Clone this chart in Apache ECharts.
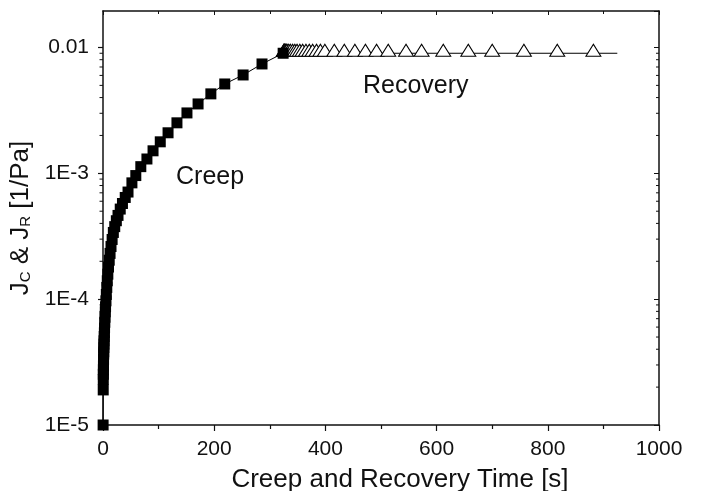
<!DOCTYPE html>
<html>
<head>
<meta charset="utf-8">
<style>
  html, body { margin: 0; padding: 0; background: #fff; }
  #chart { width: 704px; height: 491px; }
</style>
<script src="https://cdn.jsdelivr.net/npm/echarts@6.0.0/dist/echarts.min.js"></script>
</head>
<body>
<div id="chart"></div>
<script>
// creep phase: time [s] and compliance J_C [1/Pa]
var creepTime = [0.2, 0.4, 0.5, 0.6, 0.7, 0.8, 0.9, 1.0, 1.2, 1.3, 1.5, 1.7, 1.9, 2.2, 2.5, 2.8, 3.2, 3.6,
    4.1, 4.6, 5.3, 6.0, 6.8, 7.7, 8.7, 9.9, 11.2, 12.7, 14.4, 16.4, 18.6, 21.1, 24, 27, 31, 35, 40, 45,
    52, 59, 68, 79, 90, 103, 117, 133, 151, 171, 194, 219, 252, 286, 324];
var creepJ = [1.0e-5, 1.9e-5, 2.3e-5, 2.53e-5, 2.75e-5, 2.95e-5, 3.14e-5, 3.32e-5, 3.66e-5, 3.82e-5,
    4.12e-5, 4.40e-5, 4.67e-5, 5.05e-5, 5.4e-5, 5.9e-5, 6.55e-5, 7.18e-5, 7.94e-5, 8.69e-5, 9.7e-5,
    1.09e-4, 1.24e-4, 1.4e-4, 1.58e-4, 1.8e-4, 2.04e-4, 2.31e-4, 2.62e-4, 2.98e-4, 3.39e-4, 3.77e-4,
    4.2e-4, 4.63e-4, 5.2e-4, 5.76e-4, 6.43e-4, 7.1e-4, 8.4e-4, 9.6e-4, 1.13e-3, 1.3e-3, 1.51e-3,
    1.78e-3, 2.1e-3, 2.52e-3, 3.02e-3, 3.56e-3, 4.28e-3, 5.13e-3, 6.05e-3, 7.4e-3, 9.0e-3];

// recovery phase: time [s] and compliance J_R [1/Pa]
var recoveryTime = [325.2, 325.5, 326, 326.5, 327.5, 328.5, 330, 331, 334, 337, 341, 345, 349, 354,
    359, 365, 371, 377, 384, 391, 399, 416, 434, 453, 472, 492, 513, 545, 573, 612, 657, 700, 757, 817, 882];
var recoveryJ = [0.009, 0.009, 0.009, 0.009, 0.009, 0.009, 0.009, 0.009, 0.009, 0.009, 0.009, 0.009,
    0.009, 0.009, 0.009, 0.009, 0.009, 0.009, 0.009, 0.009, 0.009, 0.009, 0.009, 0.009, 0.009, 0.009,
    0.009, 0.009, 0.009, 0.009, 0.009, 0.009, 0.009, 0.009, 0.009];
// the recovery line runs on past the last marker
var recoveryLineEnd = [925, 0.009];

var xTicks = [0, 200, 400, 600, 800, 1000];
var yTickLabels = ['1E-5', '1E-4', '1E-3', '0.01'];

var FONT = "'Liberation Sans', Arial, sans-serif";
var INK = '#111';

var creepData = creepTime.map(function (t, i) { return [t, creepJ[i]]; });
var recoveryData = recoveryTime.map(function (t, i) { return [t, recoveryJ[i]]; });
recoveryData.push({ value: recoveryLineEnd, symbol: 'none' });

// minor ticks of the log axis, at 2..9 of each decade
var minorVals = [];
for (var e = -5; e <= -2; e++) {
    for (var m = 2; m <= 9; m++) {
        var v = m * Math.pow(10, e);
        if (v < 0.0195) minorVals.push([0, v]);
    }
}

function logLabel(v) {
    var p = Math.log10(v);
    var r = Math.round(p);
    if (Math.abs(p - r) > 0.01) return '';
    return yTickLabels[r + 5] || '';
}

var myChart = echarts.init(document.getElementById('chart'));
var option = {
    backgroundColor: '#fff',
    animation: false,
    grid: { left: 103, right: 45, top: 11, bottom: 66, outerBoundsMode: 'none', containLabel: false },
    xAxis: [{
        type: 'value',
        position: 'bottom',
        min: xTicks[0],
        max: xTicks[xTicks.length - 1],
        interval: 200,
        name: 'Creep and Recovery Time [s]',
        nameLocation: 'middle',
        nameGap: 42,
        nameTextStyle: { fontFamily: FONT, fontSize: 26, color: INK, padding: [0, 0, 0, 38] },
        axisLine: { lineStyle: { color: INK, width: 1.5 } },
        axisTick: { inside: false, length: 6, lineStyle: { color: INK, width: 1.2 } },
        minorTick: { show: true, splitNumber: 2, length: 4, lineStyle: { color: INK, width: 1.2 } },
        axisLabel: {
            fontFamily: FONT, fontSize: 21, color: INK, margin: 14,
            formatter: function (v) { return String(v); }
        },
        splitLine: { show: false }
    }, {
        type: 'value',
        position: 'top',
        min: xTicks[0],
        max: xTicks[xTicks.length - 1],
        interval: 200,
        axisLine: { onZero: false, lineStyle: { color: INK, width: 1.5 } },
        axisTick: { inside: true, length: 4, lineStyle: { color: INK } },
        minorTick: { show: true, splitNumber: 2, length: 3, lineStyle: { color: INK } },
        axisLabel: { show: false },
        splitLine: { show: false }
    }],
    yAxis: [{
        type: 'log',
        logBase: 10,
        min: 1e-5,
        max: 0.0195,
        name: '{m|J}{s|C}{m| & J}{s|R}{m| [1/Pa]}',
        nameLocation: 'middle',
        nameGap: 58,
        nameTextStyle: {
            fontFamily: FONT, color: INK,
            rich: {
                m: { fontFamily: FONT, fontSize: 26, color: INK, verticalAlign: 'bottom', lineHeight: 30 },
                s: { fontFamily: FONT, fontSize: 15, color: INK, verticalAlign: 'bottom', lineHeight: 12 }
            }
        },
        axisLine: { lineStyle: { color: INK, width: 1.5 } },
        axisTick: { inside: false, length: 5, lineStyle: { color: INK, width: 1.2 } },
        axisLabel: { fontFamily: FONT, fontSize: 21, color: INK, margin: 14, formatter: logLabel, showMaxLabel: false },
        splitLine: { show: false }
    }, {
        type: 'log',
        logBase: 10,
        position: 'right',
        min: 1e-5,
        max: 0.0195,
        axisLine: { onZero: false, lineStyle: { color: INK, width: 1.5 } },
        axisTick: { inside: true, length: 5, lineStyle: { color: INK } },
        axisLabel: { show: false },
        splitLine: { show: false }
    }],
    graphic: [{
        type: 'text', left: 176, top: 165, silent: true,
        style: { text: 'Creep', fontFamily: FONT, fontSize: 25, fill: INK }
    }, {
        type: 'text', left: 363, top: 74, silent: true,
        style: { text: 'Recovery', fontFamily: FONT, fontSize: 25, fill: INK }
    }],
    series: [{
        name: 'minor ticks',
        type: 'custom',
        silent: true,
        clip: false,
        data: minorVals,
        renderItem: function (params, api) {
            var left = api.coord([0, api.value(1)]);
            var right = api.coord([1000, api.value(1)]);
            return {
                type: 'group',
                children: [{
                    type: 'line',
                    shape: { x1: left[0] - 3.5, y1: left[1], x2: left[0], y2: left[1] },
                    style: { stroke: INK, lineWidth: 1 }
                }, {
                    type: 'line',
                    shape: { x1: right[0] - 3, y1: right[1], x2: right[0], y2: right[1] },
                    style: { stroke: INK, lineWidth: 1 }
                }]
            };
        }
    }, {
        name: 'Recovery',
        type: 'line',
        data: recoveryData,
        symbol: 'triangle',
        symbolSize: [15, 12],
        symbolOffset: [0, -3],
        showAllSymbol: true,
        itemStyle: { color: '#fff', borderColor: '#000', borderWidth: 1 },
        lineStyle: { color: '#000', width: 1 },
        z: 3
    }, {
        name: 'Creep',
        type: 'line',
        data: creepData,
        symbol: 'rect',
        symbolSize: 11,
        showAllSymbol: true,
        itemStyle: { color: '#000' },
        lineStyle: { color: '#000', width: 1 },
        z: 4
    }]
};
myChart.setOption(option);
</script>
</body>
</html>
